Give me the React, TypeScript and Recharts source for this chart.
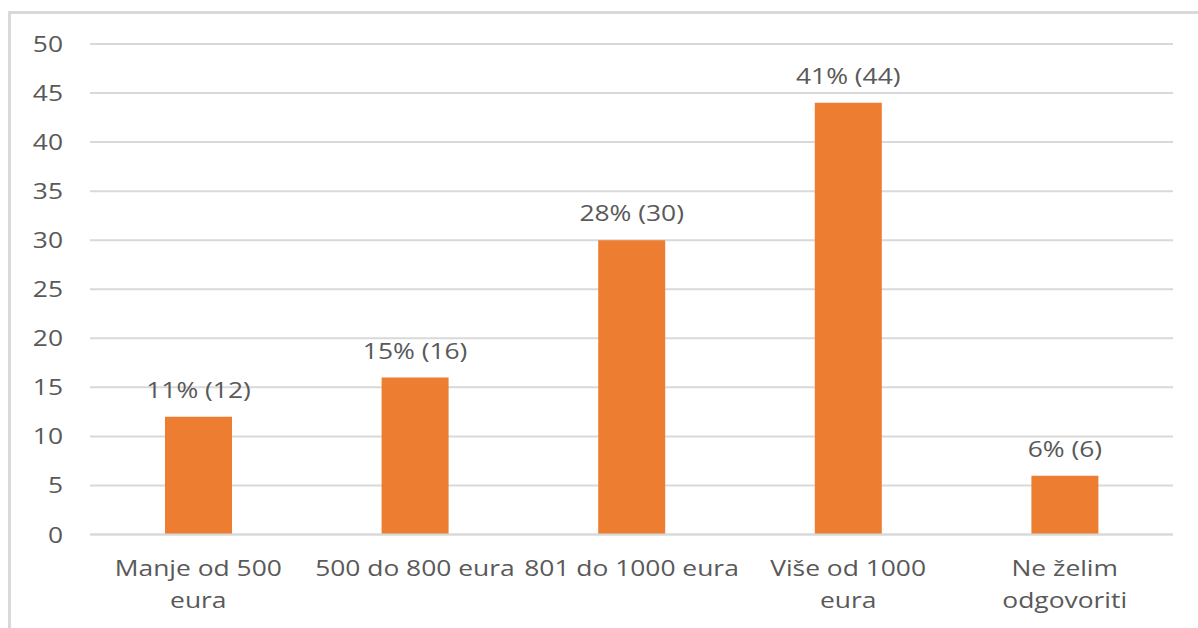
import React from "react";
import { BarChart, Bar, XAxis, YAxis, CartesianGrid, LabelList } from "recharts";

const categories = ["Manje od 500\neura", "500 do 800 eura", "801 do 1000 eura", "Više od 1000\neura", "Ne želim\nodgovoriti"];
const counts = [12, 16, 30, 44, 6];
const percents = [11, 15, 28, 41, 6];
const yTicks = [0, 5, 10, 15, 20, 25, 30, 35, 40, 45, 50];

const data = categories.map((c, i) => ({ name: c, value: counts[i], pct: percents[i] }));

const TEXT = "#595959";
const FONT = "'Open Sans', sans-serif";
const FS = 22;
const SX = 1.2;

const XTick = (props: any) => {
  const { x, y, payload } = props;
  const lines = String(payload.value).split("\n");
  return (
    <g transform={`translate(${x},${y}) scale(${SX},1)`}>
      {lines.map((l, i) => (
        <text key={i} x={0} y={34 + i * 31.5} textAnchor="middle" fill={TEXT} fontSize={FS} fontFamily={FONT}>
          {l}
        </text>
      ))}
    </g>
  );
};

const YTick = (props: any) => {
  const { y, payload } = props;
  return (
    <g transform={`translate(63,${y}) scale(${SX},1)`}>
      <text x={0} y={0} dy={8} textAnchor="end" fill={TEXT} fontSize={FS} fontFamily={FONT}>
        {payload.value}
      </text>
    </g>
  );
};

const BarLabel = (props: any) => {
  const { x, y, width, index } = props;
  const d = data[index];
  return (
    <g transform={`translate(${x + width / 2},${y - 19}) scale(${SX},1)`}>
      <text x={0} y={0} textAnchor="middle" fill={TEXT} fontSize={FS} fontFamily={FONT}>
        {`${d.pct}% (${d.value})`}
      </text>
    </g>
  );
};

export default function App() {
  return (
    <div style={{ position: "absolute", left: 0, top: 0, width: 1198, height: 628, background: "#fff", overflow: "hidden" }}>
      <div
        style={{
          position: "absolute",
          left: 8,
          top: 11,
          width: 1200,
          height: 640,
          borderLeft: "3px solid #d9d9d9",
          borderTop: "3px solid #d9d9d9",
        }}
      />
      <div style={{ position: "absolute", left: 0, top: 0 }}>
        <BarChart width={1198} height={628} data={data} margin={{ top: 44, right: 25, bottom: 0, left: 0 }}>
          <CartesianGrid vertical={false} stroke="#d9d9d9" strokeWidth={2} />
          <XAxis
            dataKey="name"
            height={93.5}
            axisLine={{ stroke: "#d9d9d9", strokeWidth: 2 }}
            tickLine={false}
            tick={<XTick />}
            interval={0}
          />
          <YAxis
            width={90}
            domain={[0, 50]}
            ticks={yTicks}
            axisLine={false}
            tickLine={false}
            tick={<YTick />}
            interval={0}
          />
          <Bar dataKey="value" fill="#ED7D31" barSize={67} isAnimationActive={false}>
            <LabelList dataKey="value" content={<BarLabel />} />
          </Bar>
        </BarChart>
      </div>
    </div>
  );
}
